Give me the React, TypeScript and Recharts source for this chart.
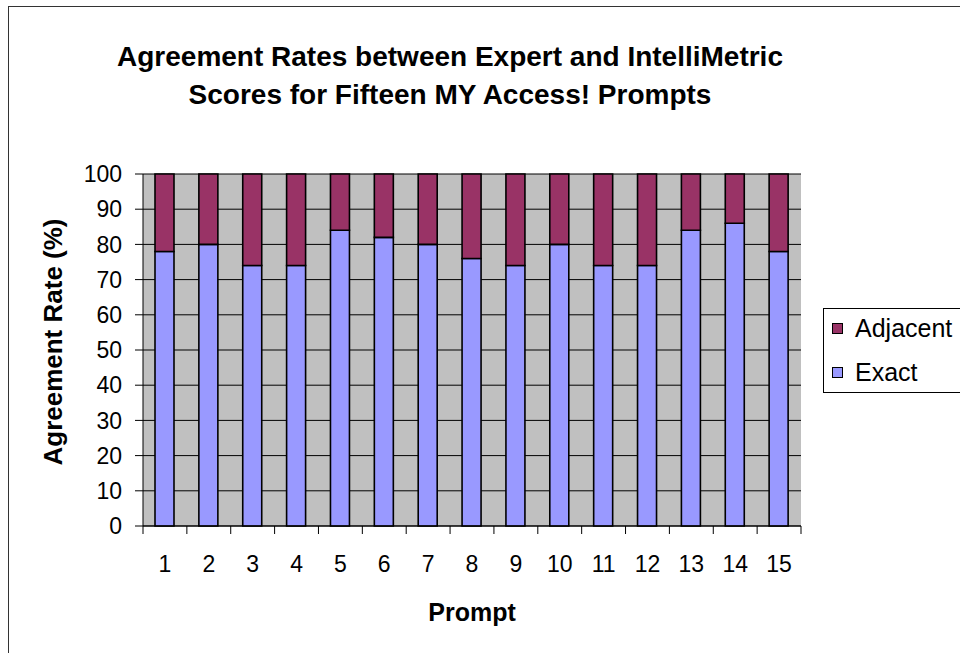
import { Bar, BarChart, CartesianGrid, Label, XAxis, YAxis } from 'recharts'

const PROMPTS = ['1', '2', '3', '4', '5', '6', '7', '8', '9', '10', '11', '12', '13', '14', '15']
const EXACT = [78, 80, 74, 74, 84, 82, 80, 76, 74, 80, 74, 74, 84, 86, 78]
const ADJACENT = [22, 20, 26, 26, 16, 18, 20, 24, 26, 20, 26, 26, 16, 14, 22]
const Y_TICKS = [0, 10, 20, 30, 40, 50, 60, 70, 80, 90, 100]

const FONT = "Arial, 'Liberation Sans', sans-serif"
const EXACT_COLOUR = '#9999ff'
const ADJ_COLOUR = '#993366'
const PLOT_W = 658
const BAND = PLOT_W / PROMPTS.length

const data = PROMPTS.map((p, i) => ({ prompt: p, exact: EXACT[i], adjacent: ADJACENT[i] }))

function PromptTick(props: any) {
  const { x, y, payload, index } = props
  const last = index === PROMPTS.length - 1
  return (
    <g>
      <line x1={x - BAND / 2} y1={y} x2={x - BAND / 2} y2={y + 8} stroke="#000" />
      {last && <line x1={x + BAND / 2} y1={y} x2={x + BAND / 2} y2={y + 8} stroke="#000" />}
      <text x={x} y={y + 46} textAnchor="middle" fontSize={23} fontFamily={FONT} fill="#000">
        {payload.value}
      </text>
    </g>
  )
}

// legend drawn beside the plot, like the Excel original
function LegendBox() {
  const items = [
    { name: 'Adjacent', colour: ADJ_COLOUR, top: 14 },
    { name: 'Exact', colour: EXACT_COLOUR, top: 58 },
  ]
  return (
    <div
      style={{
        position: 'absolute',
        left: 814,
        top: 301,
        width: 140,
        height: 85,
        border: '1px solid #000',
        boxSizing: 'border-box',
        background: '#fff',
        fontFamily: FONT,
        fontSize: 25,
        color: '#000',
      }}
    >
      {items.map((it) => (
        <div key={it.name} style={{ position: 'absolute', left: 8, top: it.top - 10, height: 30, display: 'flex', alignItems: 'center' }}>
          <span
            style={{
              display: 'inline-block',
              width: 9,
              height: 9,
              background: it.colour,
              border: '1px solid #000',
              marginRight: 12,
            }}
          />
          <span style={{ lineHeight: '30px' }}>{it.name}</span>
        </div>
      ))}
    </div>
  )
}

export default function App() {
  return (
    <div
      style={{
        position: 'absolute',
        left: 8,
        top: 6,
        width: 960,
        height: 660,
        borderLeft: '1px solid #333',
        borderTop: '1px solid #333',
        background: '#fff',
      }}
    >
      <div
        style={{
          position: 'absolute',
          left: 0,
          top: 31,
          width: 882,
          textAlign: 'center',
          fontFamily: FONT,
          fontWeight: 'bold',
          fontSize: 28,
          lineHeight: '38px',
          color: '#000',
        }}
      >
        Agreement Rates between Expert and IntelliMetric
        <br />
        Scores for Fifteen MY Access! Prompts
      </div>
      <BarChart
        width={951}
        height={646}
        data={data}
        margin={{ top: 167, right: 159, bottom: 27, left: 0 }}
        barSize={19}
      >
        <CartesianGrid vertical={false} stroke="#000" fill="#c0c0c0" />
        <XAxis
          dataKey="prompt"
          height={100}
          interval={0}
          tickSize={0}
          tickMargin={0}
          tickLine={false}
          axisLine={{ stroke: '#000' }}
          tick={<PromptTick />}
        >
          <Label value="Prompt" position="center" dy={36} fontSize={25} fontWeight="bold" fontFamily={FONT} fill="#000" />
        </XAxis>
        <XAxis xAxisId="top" orientation="top" height={0} tick={false} tickLine={false} axisLine={{ stroke: '#808080' }} />
        <YAxis
          width={134}
          domain={[0, 100]}
          ticks={Y_TICKS}
          interval={0}
          tickSize={8}
          tickMargin={13}
          tickLine={{ stroke: '#000' }}
          axisLine={{ stroke: '#000' }}
          tick={{ fontSize: 23, fontFamily: FONT, fill: '#000' }}
        >
          <Label
            value="Agreement Rate (%)"
            angle={-90}
            position="center"
            dx={-23}
            dy={-8}
            fontSize={26}
            fontWeight="bold"
            fontFamily={FONT}
            fill="#000"
          />
        </YAxis>
        <YAxis yAxisId="right" orientation="right" width={0} tick={false} tickLine={false} axisLine={{ stroke: '#808080' }} />
        <Bar dataKey="exact" name="Exact" stackId="a" fill={EXACT_COLOUR} stroke="#000" strokeWidth={1.6} isAnimationActive={false} />
        <Bar dataKey="adjacent" name="Adjacent" stackId="a" fill={ADJ_COLOUR} stroke="#000" strokeWidth={1.6} isAnimationActive={false} />
      </BarChart>
      <LegendBox />
    </div>
  )
}
